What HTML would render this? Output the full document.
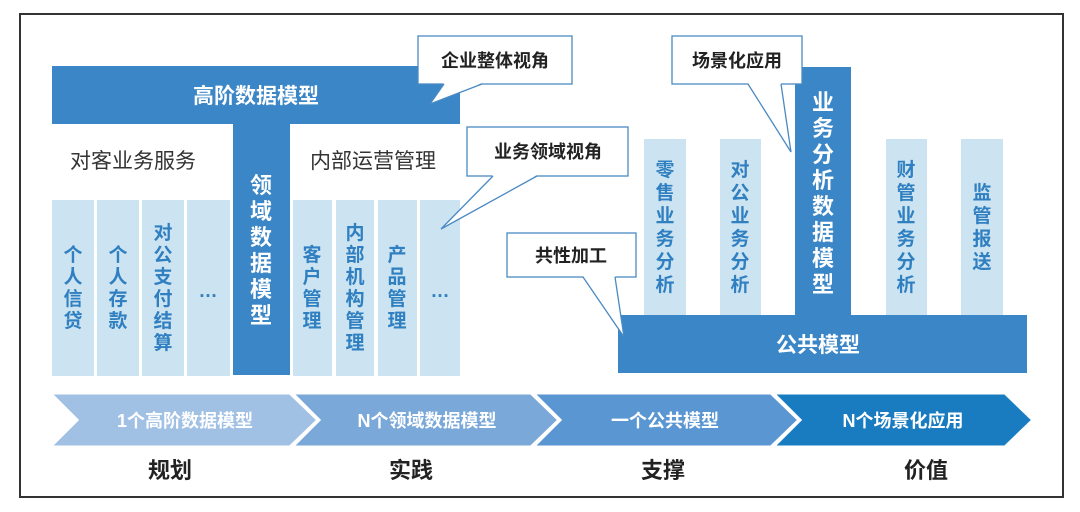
<!DOCTYPE html>
<html><head><meta charset="utf-8"><style>
html,body{margin:0;padding:0;background:#fff;}
svg{display:block;font-family:"Liberation Sans","Noto Sans CJK SC",sans-serif;}
.w{fill:#fff;font-weight:bold;}
.c{fill:#2f7fc1;font-weight:bold;font-size:19px;}
.k{fill:#222;font-weight:bold;font-size:18px;}
</style></head><body>
<svg width="1080" height="512" viewBox="0 0 1080 512" xmlns="http://www.w3.org/2000/svg">
<rect x="20" y="14" width="1043" height="483" fill="#fff" stroke="#333" stroke-width="2"/>
<!-- top T -->
<rect x="52" y="66" width="408" height="58" fill="#3a86c6"/>
<rect x="233" y="124" width="57" height="251" fill="#3a86c6"/>
<text x="256" y="103" class="w" font-size="21" text-anchor="middle">高阶数据模型</text>
<text x="70" y="168" font-size="21" fill="#333">对客业务服务</text>
<text x="310" y="168" font-size="21" fill="#333">内部运营管理</text>
<!-- left cols -->
<g fill="#cce4f1">
<rect x="52" y="200" width="42" height="176"/><rect x="97" y="200" width="42" height="176"/>
<rect x="142" y="200" width="42" height="176"/><rect x="187" y="200" width="43" height="176"/>
<rect x="293" y="200" width="39" height="176"/><rect x="336" y="200" width="38" height="176"/>
<rect x="378" y="200" width="39" height="176"/><rect x="420" y="200" width="40" height="176"/>
</g>
<g class="c" text-anchor="middle">
<text x="73"><tspan x="73" y="261">个</tspan><tspan x="73" y="283">人</tspan><tspan x="73" y="305">信</tspan><tspan x="73" y="327">贷</tspan></text>
<text x="118"><tspan x="118" y="261">个</tspan><tspan x="118" y="283">人</tspan><tspan x="118" y="305">存</tspan><tspan x="118" y="327">款</tspan></text>
<text x="163"><tspan x="163" y="239">对</tspan><tspan x="163" y="261">公</tspan><tspan x="163" y="283">支</tspan><tspan x="163" y="305">付</tspan><tspan x="163" y="327">结</tspan><tspan x="163" y="349">算</tspan></text>
<text x="208" y="297">…</text>
<text x="312"><tspan x="312" y="261">客</tspan><tspan x="312" y="283">户</tspan><tspan x="312" y="305">管</tspan><tspan x="312" y="327">理</tspan></text>
<text x="355"><tspan x="355" y="239">内</tspan><tspan x="355" y="261">部</tspan><tspan x="355" y="283">机</tspan><tspan x="355" y="305">构</tspan><tspan x="355" y="327">管</tspan><tspan x="355" y="349">理</tspan></text>
<text x="397"><tspan x="397" y="261">产</tspan><tspan x="397" y="283">品</tspan><tspan x="397" y="305">管</tspan><tspan x="397" y="327">理</tspan></text>
<text x="440" y="297">…</text>
</g>
<text class="w" font-size="22" text-anchor="middle"><tspan x="261" y="193">领</tspan><tspan x="261" y="219">域</tspan><tspan x="261" y="245">数</tspan><tspan x="261" y="271">据</tspan><tspan x="261" y="297">模</tspan><tspan x="261" y="323">型</tspan></text>
<!-- right structure -->
<g fill="#cce4f1">
<rect x="644" y="139" width="42" height="176"/><rect x="720" y="139" width="41" height="176"/>
<rect x="886" y="139" width="41" height="176"/><rect x="961" y="139" width="42" height="176"/>
</g>
<rect x="795" y="67" width="56" height="250" fill="#3a86c6"/>
<rect x="618" y="315" width="409" height="58" fill="#3a86c6"/>
<text x="818" y="352" class="w" font-size="21" text-anchor="middle">公共模型</text>
<g class="c" text-anchor="middle">
<text><tspan x="665" y="176">零</tspan><tspan x="665" y="199">售</tspan><tspan x="665" y="222">业</tspan><tspan x="665" y="245">务</tspan><tspan x="665" y="268">分</tspan><tspan x="665" y="291">析</tspan></text>
<text><tspan x="740" y="176">对</tspan><tspan x="740" y="199">公</tspan><tspan x="740" y="222">业</tspan><tspan x="740" y="245">务</tspan><tspan x="740" y="268">分</tspan><tspan x="740" y="291">析</tspan></text>
<text><tspan x="906" y="176">财</tspan><tspan x="906" y="199">管</tspan><tspan x="906" y="222">业</tspan><tspan x="906" y="245">务</tspan><tspan x="906" y="268">分</tspan><tspan x="906" y="291">析</tspan></text>
<text><tspan x="982" y="199">监</tspan><tspan x="982" y="222">管</tspan><tspan x="982" y="245">报</tspan><tspan x="982" y="268">送</tspan></text>
</g>
<text class="w" font-size="22" text-anchor="middle"><tspan x="823" y="110">业</tspan><tspan x="823" y="136">务</tspan><tspan x="823" y="162">分</tspan><tspan x="823" y="188">析</tspan><tspan x="823" y="214">数</tspan><tspan x="823" y="240">据</tspan><tspan x="823" y="266">模</tspan><tspan x="823" y="292">型</tspan></text>
<!-- callouts -->
<g stroke="#4a8ac4" stroke-width="1.3">
<rect x="418" y="36" width="154" height="48" fill="#fff"/>
<polygon points="444,83 430,104 482,83" fill="#fff" stroke="none"/>
<polyline points="444,84 430,104 482,84" fill="none"/>
<rect x="467" y="127" width="161" height="49" fill="#fff"/>
<polygon points="493,175 441,229 537,175" fill="#fff" stroke="none"/>
<polyline points="493,176 441,229 537,176" fill="none"/>
<rect x="507" y="233" width="129" height="44" fill="#fff"/>
<polygon points="583,276 624,337 615,276" fill="#fff" stroke="none"/>
<polyline points="583,277 624,337 615,277" fill="none"/>
<rect x="672" y="36" width="130" height="48" fill="#fff"/>
<polygon points="748,83 791,152 781,83" fill="#fff" stroke="none"/>
<polyline points="748,84 791,152 781,84" fill="none"/>
</g>
<text x="495" y="67" class="k" text-anchor="middle">企业整体视角</text>
<text x="548" y="158" class="k" text-anchor="middle">业务领域视角</text>
<text x="571" y="262" class="k" text-anchor="middle">共性加工</text>
<text x="737" y="67" class="k" text-anchor="middle">场景化应用</text>
<!-- chevrons -->
<g stroke="#fff" stroke-width="3" stroke-linejoin="miter">
<polygon points="50,393 290,393 318,420 290,447 50,447 77,420" fill="#a0c0e4"/>
<polygon points="292,393 531,393 559,420 531,447 292,447 319,420" fill="#7aa8d9"/>
<polygon points="533,393 771,393 799,420 771,447 533,447 560,420" fill="#5a96d2"/>
<polygon points="773,393 1005,393 1033,420 1005,447 773,447 800,420" fill="#1a7cc0"/>
</g>
<g class="w" font-size="18" text-anchor="middle">
<text x="185" y="427">1个高阶数据模型</text>
<text x="427" y="427">N个领域数据模型</text>
<text x="665" y="427">一个公共模型</text>
<text x="903" y="427">N个场景化应用</text>
</g>
<g font-size="22" font-weight="bold" fill="#222" text-anchor="middle">
<text x="170" y="478">规划</text>
<text x="411" y="478">实践</text>
<text x="663" y="478">支撑</text>
<text x="926" y="478">价值</text>
</g>
</svg>
</body></html>
